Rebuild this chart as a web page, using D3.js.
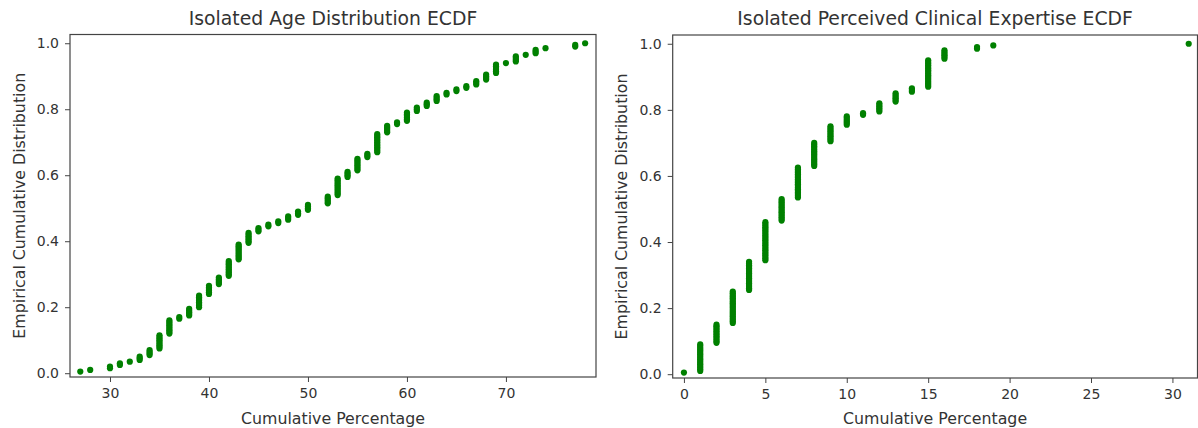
<!DOCTYPE html>
<meta charset="utf-8">
<style>
  body { margin: 0; background: #fff; }
  text { font-family: "DejaVu Sans", sans-serif; fill: #333; }
  .tick text { font-size: 14px; }
  .tick line, .domain { stroke: #444; }
  .frame { fill: none; stroke: #444; stroke-width: 1.2; }
  .title { font-size: 18.8px; }
  .label { font-size: 15.8px; }
</style>
<svg width="1198" height="428"></svg>
<script src="https://cdn.jsdelivr.net/npm/d3@7"></script>
<script>
  // sample: distinct values and how many times each occurs (n = 200)
  var ageValues = [27,28,30,31,32,33,34,35,36,37,38,39,40,41,42,43,44,45,46,47,48,49,50,52,53,54,55,56,57,58,59,60,61,62,63,64,65,66,67,68,69,70,71,72,73,74,77,78];
  var ageCounts = [1,1,2,2,1,3,4,9,9,2,5,8,6,5,10,10,7,3,2,2,3,3,4,5,11,4,8,3,12,5,2,6,3,3,4,2,2,2,3,4,6,1,4,1,3,1,2,1];

  var expValues = [0,1,2,3,4,5,6,7,8,9,10,11,12,13,14,15,16,18,19,31];
  var expCounts = [1,17,12,20,18,24,14,19,15,10,6,2,6,6,3,17,6,2,1,1];

  var ageTicks = [30,40,50,60,70];
  var expTicks = [0,5,10,15,20,25,30];
  var yTicks = [0,0.2,0.4,0.6,0.8,1.0];

  var svg = d3.select("svg");

  function ecdf(values, counts) {
    var sample = [];
    values.forEach(function(v, i) { for (var k = 0; k < counts[i]; k++) sample.push(v); });
    sample.sort(d3.ascending);
    return sample.map(function(v, i) { return [v, (i + 1) / sample.length]; });
  }

  function panel(opt) {
    var x = d3.scaleLinear().domain(opt.xDomain).range([opt.left, opt.right]);
    var y = d3.scaleLinear().domain([-0.0115, 1.0265]).range([opt.bottom, opt.top]);
    var g = svg.append("g");

    g.append("g")
        .attr("transform", "translate(0," + opt.bottom + ")")
        .call(d3.axisBottom(x).tickValues(opt.xTicks).tickSize(5).tickPadding(6).tickSizeOuter(0))
        .call(function(a) { a.select(".domain").remove(); });

    g.append("g")
        .attr("transform", "translate(" + opt.left + ",0)")
        .call(d3.axisLeft(y).tickValues(yTicks).tickFormat(d3.format(".1f")).tickSize(5).tickPadding(6).tickSizeOuter(0))
        .call(function(a) { a.select(".domain").remove(); });

    g.selectAll("circle")
      .data(ecdf(opt.values, opt.counts))
      .enter().append("circle")
        .attr("cx", function(d) { return x(d[0]); })
        .attr("cy", function(d) { return y(d[1]); })
        .attr("r", 3.1)
        .attr("fill", "#008000");

    g.append("rect").attr("class", "frame")
        .attr("x", opt.left).attr("y", opt.top)
        .attr("width", opt.right - opt.left).attr("height", opt.bottom - opt.top);

    g.append("text").attr("class", "title")
        .attr("x", (opt.left + opt.right) / 2).attr("y", 25)
        .attr("text-anchor", "middle").text(opt.title);

    g.append("text").attr("class", "label")
        .attr("x", (opt.left + opt.right) / 2).attr("y", 424)
        .attr("text-anchor", "middle").text("Cumulative Percentage");

    g.append("text").attr("class", "label")
        .attr("transform", "translate(" + (opt.left - 45.5) + "," + ((opt.top + opt.bottom) / 2) + ") rotate(-90)")
        .attr("text-anchor", "middle").text("Empirical Cumulative Distribution");
  }

  panel({
    title: "Isolated Age Distribution ECDF",
    values: ageValues, counts: ageCounts, xTicks: ageTicks,
    xDomain: [25.96, 79.1],
    left: 70, right: 596, top: 34.5, bottom: 377
  });

  panel({
    title: "Isolated Perceived Clinical Expertise ECDF",
    values: expValues, counts: expCounts, xTicks: expTicks,
    xDomain: [-0.69, 31.54],
    left: 672.7, right: 1197.5, top: 35, bottom: 378
  });
</script>
